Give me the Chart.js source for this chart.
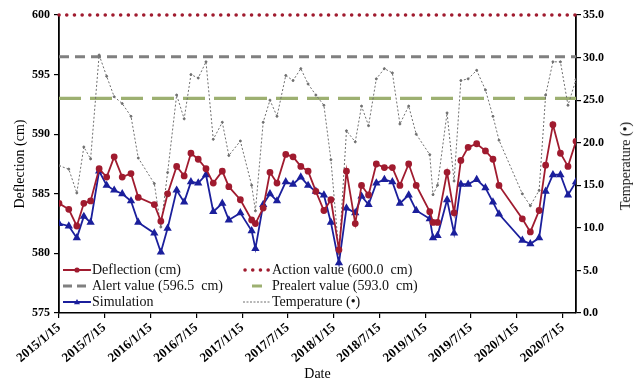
<!DOCTYPE html>
<html lang="en">
<head>
<meta charset="UTF-8">
<title>Deflection, simulation and temperature</title>
<script src="https://cdn.jsdelivr.net/npm/chart.js"></script>
<style>
  body { margin: 0; background: #fff; }
  #wrap { position: relative; width: 639px; height: 386px; font-family: "Liberation Serif", "Times New Roman", serif; color: #111; }
  #legend { position: absolute; left: 63px; top: 262px; display: grid; grid-template-columns: 180px 230px; grid-auto-rows: 16px; font-size: 14px; }
  .item { display: flex; align-items: center; white-space: pre; }
  .item svg { margin-right: 1px; flex: none; }
  #y2title { position: absolute; left: 626px; top: 166px; transform: translate(-50%, -50%) rotate(-90deg); font-size: 14px; white-space: pre; }
</style>
</head>
<body>
<div id="wrap">
  <canvas id="chart" width="639" height="386"></canvas>
  <div id="legend"></div>
  <div id="y2title">Temperature (•)</div>
</div>

<script>
  // values
  const dates = ['2015/1/15', '2015/2/23', '2015/3/27', '2015/4/24', '2015/5/21', '2015/6/24', '2015/7/24', '2015/8/23',
    '2015/9/24', '2015/10/29', '2015/11/27', '2016/1/30', '2016/2/25', '2016/3/23', '2016/4/28', '2016/5/28',
    '2016/6/24', '2016/7/23', '2016/8/23', '2016/9/21', '2016/10/27', '2016/11/22', '2017/1/7', '2017/2/21',
    '2017/3/8', '2017/4/8', '2017/5/5', '2017/6/2', '2017/7/7', '2017/8/5', '2017/9/5', '2017/10/4',
    '2017/11/4', '2017/12/6', '2018/1/3', '2018/2/4', '2018/3/6', '2018/4/10', '2018/5/5', '2018/6/2',
    '2018/7/3', '2018/8/4', '2018/9/5', '2018/10/5', '2018/11/9', '2018/12/9', '2019/2/1', '2019/2/14',
    '2019/3/4', '2019/4/11', '2019/5/9', '2019/6/5', '2019/7/4', '2019/8/7', '2019/9/11', '2019/10/11',
    '2019/11/4', '2020/2/5', '2020/3/8', '2020/4/12', '2020/5/8', '2020/6/6', '2020/7/6', '2020/8/5', '2020/9/6'];

  const deflection = [584.2, 583.7, 582.3, 584.2, 584.4, 587.1, 586.4, 588.1, 586.4, 586.7,
    584.7, 584.1, 582.7, 585.0, 587.3, 586.5, 588.4, 587.9, 587.1, 585.9,
    586.9, 585.6, 584.5, 582.8, 582.5, 583.8, 586.8, 585.9, 588.3, 588.1,
    587.3, 586.9, 585.2, 583.6, 584.5, 580.3, 586.9, 582.5, 585.7, 584.9,
    587.5, 587.2, 587.2, 585.7, 587.5, 585.7, 583.5, 582.6, 582.6, 586.8,
    583.4, 587.8, 588.9, 589.2, 588.6, 587.9, 585.7, 582.9, 581.8, 583.6,
    587.4, 590.8, 588.4, 587.3, 589.4];

  const simulation = [582.5, 582.3, 581.3, 583.1, 582.6, 586.9, 585.7, 585.3, 585.0, 584.4,
    582.6, 581.7, 580.1, 582.1, 585.3, 584.3, 586.0, 585.9, 586.6, 583.5,
    584.2, 582.8, 583.4, 581.9, 580.4, 584.1, 585.0, 584.4, 586.0, 585.8,
    586.4, 585.7, 585.2, 584.9, 582.6, 579.2, 583.8, 583.4, 584.8, 584.1,
    585.9, 586.2, 586.0, 584.2, 584.9, 583.6, 582.9, 581.3, 581.5, 584.5,
    581.7, 585.8, 585.8, 586.2, 585.5, 584.3, 583.3, 581.1, 580.8, 581.3,
    585.2, 586.6, 586.6, 584.9, 586.0];

  const temperature = [17.3, 16.9, 14.1, 19.5, 18.1, 30.3, 27.8, 25.4, 24.6, 23.1,
    18.2, 15.2, 10.1, 16.5, 25.6, 22.8, 28.0, 27.6, 29.5, 20.4,
    22.4, 18.5, 20.2, 15.0, 12.0, 22.4, 25.0, 23.1, 27.9, 27.3,
    28.7, 26.9, 25.6, 24.4, 18.0, 7.0, 21.4, 20.1, 24.3, 22.0,
    27.5, 28.7, 28.2, 22.2, 24.3, 21.0, 18.6, 13.9, 15.0, 23.5,
    15.5, 27.3, 27.5, 28.5, 26.2, 23.1, 20.3, 14.0, 12.6, 14.4,
    25.6, 29.5, 29.5, 24.4, 27.4];

  const tickLabels = ['2015/1/15', '2015/7/15', '2016/1/15', '2016/7/15', '2017/1/15', '2017/7/15',
    '2018/1/15', '2018/7/15', '2019/1/15', '2019/7/15', '2020/1/15', '2020/7/15'];

  const actionValue = 600.0;
  const alertValue = 596.5;
  const prealertValue = 593.0;
  const xStart = '2015/1/15';
  const xEnd = '2020/9/6';

  const t0 = Date.UTC(2015, 0, 15);
  function dayOf(s) {
    const [y, m, d] = s.split('/').map(Number);
    return (Date.UTC(y, m - 1, d) - t0) / 86400000;
  }

  const serif = '"Liberation Serif", "Times New Roman", serif';
  const RED = '#a01b2f';
  const BLUE = '#1b1f9c';
  const GREY = '#808080';
  const OLIVE = '#9db071';
  const TEMP = '#6e6e6e';

  const series = vals => dates.map((d, i) => ({ x: dayOf(d), y: vals[i] }));
  const level = v => [{ x: dayOf(xStart), y: v }, { x: dayOf(xEnd), y: v }];

  const tickFont = { family: serif, size: 12, weight: 'bold' };
  const titleFont = { family: serif, size: 14 };

  new Chart(document.getElementById('chart'), {
    type: 'line',
    data: {
      datasets: [
        {
          label: 'Deflection (cm)', data: series(deflection), yAxisID: 'y',
          borderColor: RED, backgroundColor: RED, borderWidth: 1.8,
          pointStyle: 'circle', pointRadius: 2.5, order: 1
        },
        {
          label: 'Simulation', data: series(simulation), yAxisID: 'y',
          borderColor: BLUE, backgroundColor: BLUE, borderWidth: 1.8,
          pointStyle: 'triangle', pointRadius: 3, order: 2
        },
        {
          label: 'Temperature (•)', data: series(temperature), yAxisID: 'y2',
          borderColor: TEMP, backgroundColor: TEMP, borderWidth: 1, borderDash: [2, 2],
          pointRadius: 1, order: 3
        },
        {
          label: 'Action value (600.0  cm)', data: level(actionValue), yAxisID: 'y',
          borderColor: RED, borderWidth: 3.5, borderDash: [0.1, 7.6], borderCapStyle: 'round',
          pointRadius: 0, clip: false, order: 4
        },
        {
          label: 'Alert value (596.5  cm)', data: level(alertValue), yAxisID: 'y',
          borderColor: GREY, borderWidth: 3, borderDash: [10, 6],
          pointRadius: 0, order: 5
        },
        {
          label: 'Prealert value (593.0  cm)', data: level(prealertValue), yAxisID: 'y',
          borderColor: OLIVE, borderWidth: 3.2, borderDash: [22, 9],
          pointRadius: 0, order: 6
        }
      ]
    },
    options: {
      responsive: false,
      animation: false,
      layout: { padding: { top: 15, left: 0, right: 0, bottom: 0 } },
      plugins: { legend: { display: false }, tooltip: { enabled: false } },
      scales: {
        x: {
          type: 'linear', min: dayOf(xStart), max: dayOf(xEnd),
          afterBuildTicks: s => { s.ticks = tickLabels.map(l => ({ value: dayOf(l) })); },
          afterFit: s => { s.height = 73; },
          ticks: {
            autoSkip: false, minRotation: 40, maxRotation: 40, padding: 2, color: '#000',
            font: { family: serif, size: 13, weight: 'bold' },
            callback: v => tickLabels.find(l => dayOf(l) === v) || ''
          },
          grid: { drawOnChartArea: false, tickLength: 5, color: '#000', lineWidth: 1.2 },
          border: { color: '#000', width: 1.5 },
          title: { display: true, text: 'Date', color: '#000', font: titleFont, padding: { top: 0, bottom: 3 } }
        },
        y: {
          position: 'left', min: 575, max: 600,
          afterFit: s => { s.width = 59; },
          ticks: { stepSize: 5, padding: 4, color: '#000', font: tickFont },
          grid: { drawOnChartArea: false, tickLength: 5, color: '#000', lineWidth: 1.2 },
          border: { color: '#000', width: 1.8 },
          title: { display: true, text: 'Deflection (cm)', color: '#000', font: titleFont, padding: { top: 12, bottom: 0 } }
        },
        y2: {
          position: 'right', min: 0, max: 35,
          afterFit: s => { s.width = 63; },
          ticks: { stepSize: 5, padding: 2, color: '#000', font: tickFont, callback: v => v.toFixed(1) },
          grid: { drawOnChartArea: false, tickLength: 5, color: '#000', lineWidth: 1.2 },
          border: { color: '#000', width: 1.8 }
        }
      }
    }
  });

  // legend laid out as in the figure: two columns, three rows
  const sym = {
    deflection: `<line x1="0" y1="7" x2="28" y2="7" stroke="${RED}" stroke-width="2"/><circle cx="14" cy="7" r="2.6" fill="${RED}"/>`,
    action: `<line x1="2" y1="7" x2="27" y2="7" stroke="${RED}" stroke-width="3.5" stroke-dasharray="0.1 7.6" stroke-linecap="round"/>`,
    alert: `<line x1="0" y1="7" x2="27" y2="7" stroke="${GREY}" stroke-width="3" stroke-dasharray="9 5"/>`,
    prealert: `<line x1="9" y1="7" x2="19" y2="7" stroke="${OLIVE}" stroke-width="3"/>`,
    simulation: `<line x1="0" y1="7" x2="28" y2="7" stroke="${BLUE}" stroke-width="2"/><polygon points="14,4 17,9.2 11,9.2" fill="${BLUE}"/>`,
    temperature: `<line x1="0" y1="7" x2="28" y2="7" stroke="${TEMP}" stroke-width="1" stroke-dasharray="2 1.5"/>`
  };
  const legendItems = [
    ['deflection', 'Deflection (cm)'],
    ['action', 'Action value (600.0  cm)'],
    ['alert', 'Alert value (596.5  cm)'],
    ['prealert', 'Prealert value (593.0  cm)'],
    ['simulation', 'Simulation'],
    ['temperature', 'Temperature (•)']
  ];
  document.getElementById('legend').innerHTML = legendItems.map(([k, text]) =>
    `<div class="item"><svg width="28" height="14">${sym[k]}</svg><span>${text}</span></div>`).join('');
</script>
</body>
</html>
